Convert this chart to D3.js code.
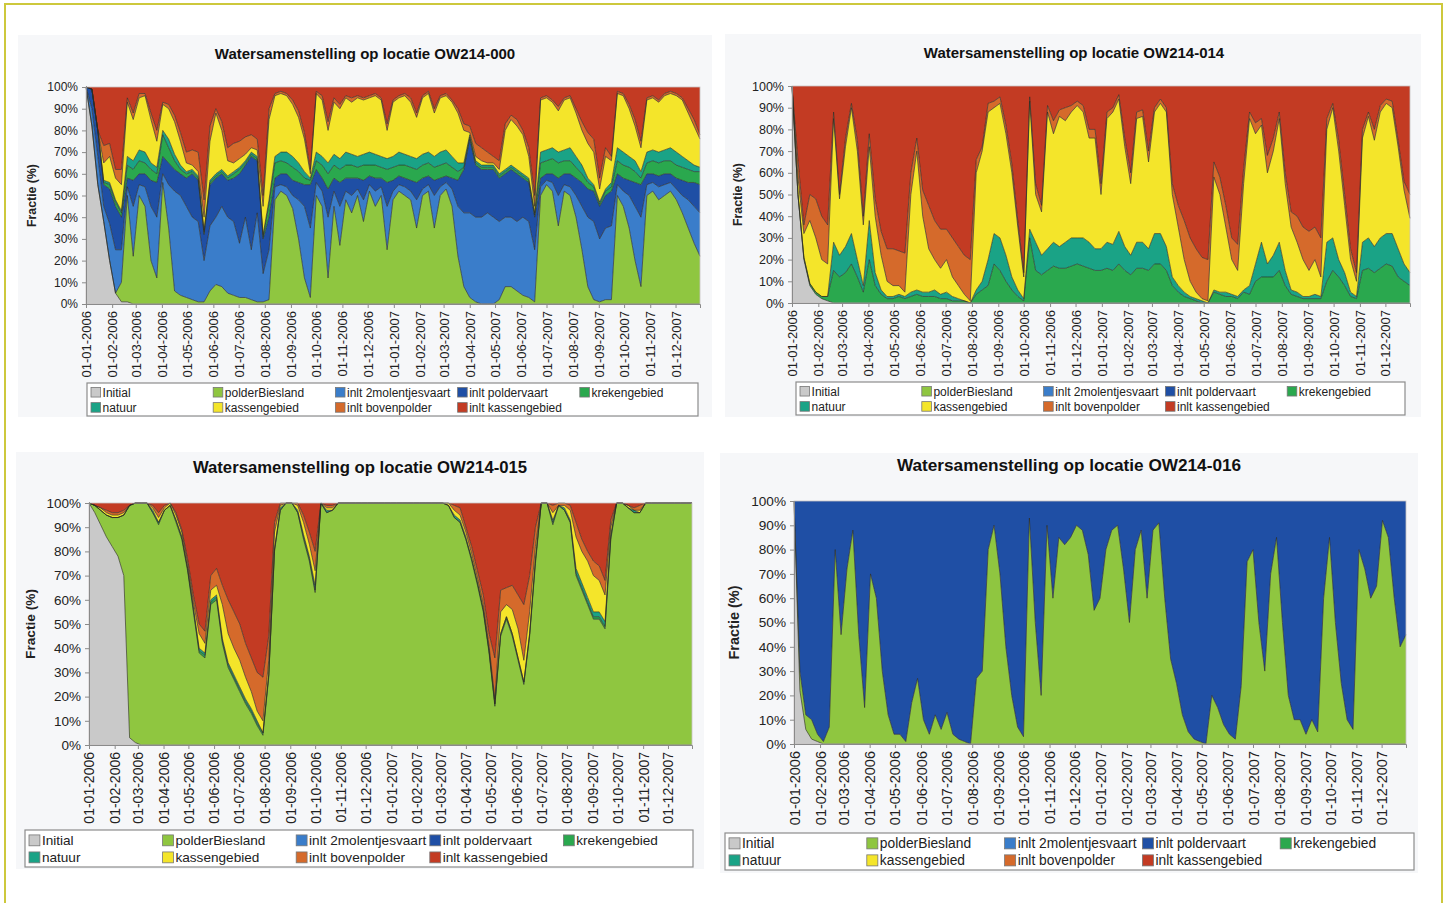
<!DOCTYPE html>
<html>
<head>
<meta charset="utf-8">
<script src="https://cdn.jsdelivr.net/npm/d3@7"></script>
<style>
  body { margin: 0; background: #ffffff; }
  svg { display: block; }
  text { font-family: Arial, "Liberation Sans", sans-serif; }
</style>
</head>
<body>
<svg id="chart" width="1446" height="903"></svg>
<script>
// Weekly water composition fractions (%) per source, 01-01-2006 .. 30-12-2007 (105 samples)
const seriesKeys = ["Initial", "polderBiesland", "inlt 2molentjesvaart", "inlt poldervaart",
  "krekengebied", "natuur", "kassengebied", "inlt bovenpolder", "inlt kassengebied"];
const seriesColors = ["#c9c9c9", "#8fc640", "#3a7dca", "#1f4fa5", "#2aa84e", "#1aa386", "#f4e52a", "#d56a2b", "#c33b23"];

// ---- OW214-000 ----
const ow000Initial = [
100,82,55,38,20,5,1,1,0,0,
0,0,0,0,0,0,0,0,0,0,
0,0,0,0,0,0,0,0,0,0,
0,0,0,0,0,0,0,0,0,0,
0,0,0,0,0,0,0,0,0,0,
0,0,0,0,0,0,0,0,0,0,
0,0,0,0,0,0,0,0,0,0,
0,0,0,0,0,0,0,0,0,0,
0,0,0,0,0,0,0,0,0,0,
0,0,0,0,0,0,0,0,0,0,
0,0,0,0,0];
const ow000PolderBiesland = [
0,0,0,0,0,0,9,49,22,50,
45,20,12,56,35,6,4,3,2,1,
1,6,9,8,5,4,3,3,2,1,
1,2,48,52,50,44,30,12,3,50,
45,12,45,27,48,42,50,38,52,45,
50,25,48,52,50,48,35,50,52,35,
50,53,45,22,8,3,1,0,0,0,
2,8,8,6,4,3,1,50,55,52,
36,52,50,40,25,8,2,1,2,2,
50,45,35,20,8,50,52,48,50,52,
48,42,35,28,22];
const ow000Molentjesvaart = [
0,8,13,7,17,20,15,4,23,5,
9,25,28,4,20,46,46,42,38,37,
19,30,31,37,35,34,25,37,23,41,
13,23,6,3,4,6,18,33,32,6,
7,28,7,18,4,8,3,10,3,7,
4,20,4,3,4,4,13,3,3,15,
4,3,8,23,34,39,39,40,42,40,
36,32,32,32,36,35,24,4,2,4,
14,3,4,10,20,32,36,29,33,34,
5,7,15,25,32,5,4,6,5,4,
5,8,13,17,20];
const ow000Poldervaart = [
0,9,12,10,16,20,15,4,12,5,
6,12,16,8,10,10,10,13,20,19,
12,19,18,15,17,20,32,24,43,24,
16,15,4,5,6,7,8,10,20,6,
6,13,6,11,6,8,5,9,4,6,
4,11,5,4,4,5,8,5,4,7,
4,3,5,12,20,34,24,22,20,22,
20,20,22,22,18,18,15,4,3,4,
8,5,6,8,11,13,14,15,15,16,
5,6,7,11,15,5,4,5,5,4,
5,7,8,11,13];
const ow000Krekengebied = [
0,0,0,1,2,2,2,6,5,6,
5,5,4,10,7,4,2,2,1,1,
1,1,1,1,1,2,2,1,1,1,
1,6,7,6,5,6,5,3,2,4,
6,7,6,6,6,6,5,7,5,6,
5,6,6,5,6,6,6,6,6,6,
6,6,5,4,1,1,1,1,1,1,
1,1,1,1,1,1,1,7,6,7,
7,6,6,5,4,3,2,1,2,2,
6,6,6,5,3,5,6,6,6,6,
6,6,6,5,6];
const ow000Natuur = [
0,0,0,1,1,1,1,4,4,5,
5,3,3,2,4,3,2,1,1,1,
1,1,1,1,1,1,1,1,1,1,
1,2,3,4,5,5,4,3,1,4,
4,5,5,5,6,5,5,5,6,5,
5,5,5,6,5,5,5,5,5,5,
6,6,5,4,2,1,1,1,1,1,
1,1,1,1,1,1,1,5,5,5,
5,5,6,5,4,2,1,1,1,2,
6,6,5,5,3,5,5,5,5,6,
6,5,4,3,2];
const ow000Kassengebied = [
0,0,0,8,12,10,12,25,19,24,
26,20,12,12,14,15,11,4,2,2,
6,18,28,18,7,4,4,3,2,3,
13,37,28,27,26,24,21,15,2,27,
26,15,24,23,25,24,27,25,25,27,
26,13,25,25,27,25,19,26,27,20,
25,25,25,23,15,1,2,2,1,1,
2,18,21,20,18,10,3,24,24,21,
19,23,23,20,16,16,15,6,15,10,
25,26,22,16,11,24,24,23,25,25,
26,26,22,18,13];
const ow000Bovenpolder = [
0,0,0,8,6,4,7,2,3,2,
1,3,5,1,2,3,4,5,7,9,
8,7,2,4,6,9,8,8,6,5,
5,5,1,1,1,2,3,3,2,1,
2,4,2,2,1,2,1,1,1,1,
1,3,1,1,1,2,2,1,1,2,
1,1,1,2,3,3,6,6,5,3,
4,3,2,3,2,4,5,1,1,1,
2,1,1,2,4,5,6,5,4,2,
1,1,2,3,3,1,1,1,1,1,
1,1,2,3,2];
const ow000InltKassengebied = [
0,1,20,27,26,38,38,5,12,3,
3,12,20,7,8,13,21,30,29,30,
52,18,10,16,28,26,25,23,22,24,
50,10,3,2,3,6,11,21,38,2,
4,16,5,8,4,5,4,5,4,3,
5,17,6,4,3,5,12,4,2,10,
4,3,6,10,17,18,26,28,30,32,
34,17,13,15,20,28,50,5,4,6,
9,5,4,10,16,21,24,42,28,32,
2,3,8,15,25,5,4,6,3,2,
3,5,10,15,22];

// ---- OW214-014 ----
const ow014Initial = [
100,50,20,8,4,2,1,0,0,0,
0,0,0,0,0,0,0,0,0,0,
0,0,0,0,0,0,0,0,0,0,
0,0,0,0,0,0,0,0,0,0,
0,0,0,0,0,0,0,0,0,0,
0,0,0,0,0,0,0,0,0,0,
0,0,0,0,0,0,0,0,0,0,
0,0,0,0,0,0,0,0,0,0,
0,0,0,0,0,0,0,0,0,0,
0,0,0,0,0,0,0,0,0,0,
0,0,0,0,0];
const ow014Krekengebied = [
0,0,1,1,1,1,2,15,12,14,
18,12,5,20,8,4,2,2,3,2,
3,4,3,3,3,2,2,1,1,1,
0,4,6,8,18,15,10,6,3,1,
30,15,13,15,17,16,16,17,18,17,
16,15,15,16,15,18,15,13,16,16,
15,18,18,15,8,5,3,2,1,0,
0,5,4,3,3,2,5,4,10,12,
12,12,15,8,4,3,2,2,2,2,
10,15,12,8,3,2,15,16,14,16,
18,17,12,10,8];
const ow014Natuur = [
0,0,0,0,0,0,0,13,10,12,
14,8,3,18,6,2,1,1,1,1,
2,2,2,2,3,2,3,2,1,0,
0,2,4,12,14,15,12,6,3,1,
4,13,9,10,11,10,12,13,12,13,
12,10,10,12,12,15,11,9,12,12,
10,14,14,11,4,3,2,1,1,1,
0,1,1,2,1,1,1,4,8,16,
6,10,13,7,2,2,1,1,2,1,
18,15,8,6,2,1,13,14,12,14,
14,15,13,8,6];
const ow014Kassengebied = [
0,8,11,29,25,17,15,57,26,46,
58,50,28,34,26,16,7,5,4,2,
45,64,35,20,14,12,15,9,6,3,
1,54,60,68,58,62,56,48,29,10,
59,22,20,63,50,60,56,58,61,58,
48,51,25,57,61,61,46,33,57,58,
40,56,60,62,38,27,15,7,3,1,
1,52,45,30,16,12,49,77,60,54,
42,48,57,40,29,23,17,12,16,9,
52,60,50,31,15,7,48,56,49,58,
60,58,47,34,25];
const ow014Bovenpolder = [
0,8,4,12,18,20,18,3,2,4,
2,5,4,6,8,11,15,17,16,18,
10,6,12,20,18,18,14,18,18,18,
19,6,2,4,3,3,4,4,3,2,
2,5,3,3,6,3,6,3,2,3,
4,4,5,3,2,2,4,5,3,3,
5,2,2,2,5,10,18,20,20,19,
19,7,8,10,10,12,7,3,5,3,
8,6,3,5,7,12,15,18,15,18,
5,2,5,5,5,4,4,2,5,3,
2,3,3,4,11];
const ow014InltKassengebied = [
0,34,64,50,52,60,64,12,50,24,
8,25,60,22,52,67,75,75,76,77,
40,24,48,55,62,66,66,70,74,78,
80,34,28,8,7,5,18,36,62,86,
5,45,55,9,16,11,10,9,7,9,
20,20,45,12,10,4,24,40,12,11,
30,10,6,10,45,55,62,70,75,79,
80,35,42,55,70,73,38,12,17,15,
32,24,12,40,58,60,65,67,65,70,
15,8,25,50,75,86,20,12,20,9,
6,7,25,44,50];

// ---- OW214-015 ----
const ow015Initial = [
100,96,91,86,82,78,70,3,1,0,
0,0,0,0,0,0,0,0,0,0,
0,0,0,0,0,0,0,0,0,0,
0,0,0,0,0,0,0,0,0,0,
0,0,0,0,0,0,0,0,0,0,
0,0,0,0,0,0,0,0,0,0,
0,0,0,0,0,0,0,0,0,0,
0,0,0,0,0,0,0,0,0,0,
0,0,0,0,0,0,0,0,0,0,
0,0,0,0,0,0,0,0,0,0,
0,0,0,0,0];
const ow015PolderBiesland = [
0,3,6,9,12,16,25,96,99,100,
100,96,91,97,99,92,85,72,55,38,
36,58,60,42,32,27,22,17,13,8,
4,28,80,97,100,100,96,85,76,63,
100,96,97,100,100,100,100,100,100,100,
100,100,100,100,100,100,100,100,100,100,
100,100,99,94,92,85,76,66,55,38,
16,45,52,45,35,25,45,75,100,100,
91,99,97,92,70,64,58,52,52,48,
85,100,100,98,96,96,100,100,100,100,
100,100,100,100,100];
const ow015Krekengebied = [
0,0,0,0,0,0,0,0,0,0,
0,0,1,0,0,1,1,1,1,1,
1,1,1,1,1,1,1,1,1,1,
1,1,1,0,0,0,0,1,1,1,
0,0,0,0,0,0,0,0,0,0,
0,0,0,0,0,0,0,0,0,0,
0,0,0,0,0,0,1,1,1,1,
1,1,1,1,1,1,1,1,0,0,
1,0,0,0,1,1,1,1,1,1,
1,0,0,0,0,0,0,0,0,0,
0,0,0,0,0];
const ow015Natuur = [
0,0,0,0,0,0,0,0,0,0,
0,1,0,0,0,0,0,0,1,1,
1,1,1,1,1,1,1,1,1,1,
0,0,0,1,0,0,1,1,1,2,
0,1,0,0,0,0,0,0,0,0,
0,0,0,0,0,0,0,0,0,0,
0,0,0,1,1,1,0,0,0,0,
0,0,0,0,0,0,0,1,0,0,
1,0,1,1,2,2,2,2,2,2,
1,0,0,0,1,0,0,0,0,0,
0,0,0,0,0];
const ow015Kassengebied = [
0,0,1,1,1,1,1,0,0,0,
0,1,2,1,1,2,2,2,2,6,
4,4,4,14,12,11,11,9,7,4,
5,6,7,1,0,0,2,5,5,6,
0,1,1,0,0,0,0,0,0,0,
0,0,0,0,0,0,0,0,0,0,
0,0,1,2,2,2,2,2,2,2,
2,9,5,10,12,9,9,5,0,0,
3,0,1,4,13,13,15,15,13,11,
3,0,0,1,0,1,0,0,0,0,
0,0,0,0,0];
const ow015Bovenpolder = [
0,0,0,1,1,1,1,0,0,0,
0,1,2,1,0,1,1,2,3,4,
5,6,7,8,14,15,15,14,14,16,
18,10,4,1,0,0,1,3,5,8,
0,1,1,0,0,0,0,0,0,0,
0,0,0,0,0,0,0,0,0,0,
0,0,0,2,3,2,3,3,4,5,
17,9,7,10,14,23,15,8,0,0,
3,1,1,2,6,5,4,6,6,6,
3,0,0,0,1,2,0,0,0,0,
0,0,0,0,0];
const ow015InltKassengebied = [
0,1,2,3,4,4,3,1,0,0,
0,1,4,1,0,4,11,23,38,50,
53,30,27,34,40,45,50,58,64,70,
72,55,8,0,0,0,0,5,12,20,
0,1,1,0,0,0,0,0,0,0,
0,0,0,0,0,0,0,0,0,0,
0,0,0,1,2,10,18,28,38,54,
64,36,35,34,38,42,30,10,0,0,
1,0,0,1,8,15,20,24,26,32,
7,0,0,1,2,1,0,0,0,0,
0,0,0,0,0];

// ---- OW214-016 ----
const ow016Initial = [
100,22,6,2,1,0,0,0,0,0,
0,0,0,0,0,0,0,0,0,0,
0,0,0,0,0,0,0,0,0,0,
0,0,0,0,0,0,0,0,0,0,
0,0,0,0,0,0,0,0,0,0,
0,0,0,0,0,0,0,0,0,0,
0,0,0,0,0,0,0,0,0,0,
0,0,0,0,0,0,0,0,0,0,
0,0,0,0,0,0,0,0,0,0,
0,0,0,0,0,0,0,0,0,0,
0,0,0,0,0];
const ow016PolderBiesland = [
0,8,6,8,3,1,7,80,45,72,
88,45,15,70,60,30,12,4,4,1,
17,27,10,4,12,6,13,4,2,1,
0,27,30,80,90,70,40,20,7,3,
93,50,20,90,60,85,82,85,90,88,
78,55,60,80,88,90,72,50,80,88,
60,88,91,60,35,25,12,5,2,1,
0,20,15,8,4,2,24,75,80,50,
30,70,85,50,20,10,10,4,10,5,
60,85,50,25,10,6,80,72,60,65,
92,85,60,40,45];
const ow016Poldervaart = [
0,70,88,90,96,99,93,20,55,28,
12,55,85,30,40,70,88,96,96,99,
83,73,90,96,88,94,87,96,98,99,
100,73,70,20,10,30,60,80,93,97,
7,50,80,10,40,15,18,15,10,12,
22,45,40,20,12,10,28,50,20,12,
40,12,9,40,65,75,88,95,98,99,
100,80,85,92,96,98,76,25,20,50,
70,30,15,50,80,90,90,96,90,95,
40,15,50,75,90,94,20,28,40,35,
8,15,40,60,55];

// Sample dates: one per week from the start of 2006
const startDate = new Date(2006, 0, 1);
const sampleDates = d3.range(ow000Initial.length).map(i => d3.timeDay.offset(startDate, 7 * i));
const monthTicks = d3.timeMonth.range(startDate, new Date(2007, 11, 2));

// Layout of the four charts
const panels = [
  { title: "Watersamenstelling op locatie OW214-000",
    series: { "Initial": ow000Initial, "polderBiesland": ow000PolderBiesland, "inlt 2molentjesvaart": ow000Molentjesvaart,
      "inlt poldervaart": ow000Poldervaart, "krekengebied": ow000Krekengebied, "natuur": ow000Natuur,
      "kassengebied": ow000Kassengebied, "inlt bovenpolder": ow000Bovenpolder, "inlt kassengebied": ow000InltKassengebied },
    bg: [18, 35, 694, 382], plot: [86, 87, 700, 304], titleX: 365, titleY: 59, titleFs: 15,
    tickFs: 12, xTickFs: 13, yTitleX: 32, yTitleFs: 12.3, legend: [87, 383, 611, 33], legFs: 12 },
  { title: "Watersamenstelling op locatie OW214-014",
    series: { "Initial": ow014Initial, "krekengebied": ow014Krekengebied, "natuur": ow014Natuur,
      "kassengebied": ow014Kassengebied, "inlt bovenpolder": ow014Bovenpolder, "inlt kassengebied": ow014InltKassengebied },
    bg: [725, 34, 696, 383], plot: [792, 86, 1410, 303], titleX: 1074, titleY: 58, titleFs: 15,
    tickFs: 12.5, xTickFs: 13, yTitleX: 738, yTitleFs: 12.3, legend: [796, 382, 609, 33], legFs: 12 },
  { title: "Watersamenstelling op locatie OW214-015",
    series: { "Initial": ow015Initial, "polderBiesland": ow015PolderBiesland, "krekengebied": ow015Krekengebied,
      "natuur": ow015Natuur, "kassengebied": ow015Kassengebied, "inlt bovenpolder": ow015Bovenpolder,
      "inlt kassengebied": ow015InltKassengebied },
    bg: [16, 452, 688, 417], plot: [89, 503, 692, 745], titleX: 360, titleY: 473, titleFs: 16.7,
    tickFs: 13.5, xTickFs: 14, yTitleX: 30, yTitleFs: 13.7, legend: [25, 830, 668, 37], legFs: 13.6 },
  { title: "Watersamenstelling op locatie OW214-016",
    series: { "Initial": ow016Initial, "polderBiesland": ow016PolderBiesland, "inlt poldervaart": ow016Poldervaart },
    bg: [720, 453, 698, 420], plot: [794, 501, 1406, 744], titleX: 1069, titleY: 471, titleFs: 17.2,
    tickFs: 13.6, xTickFs: 14.5, yTitleX: 734, yTitleFs: 14.5, legend: [725, 833, 689, 37], legFs: 13.8 }
];

const svg = d3.select("#chart");

// Outer frame of the figure
svg.append("rect").attr("x", 5).attr("y", 4).attr("width", 1437).attr("height", 910)
  .attr("fill", "none").attr("stroke", "#cdc83c").attr("stroke-width", 2);

function drawPanel(cfg) {
  const g = svg.append("g");
  const [px0, py0, px1, py1] = cfg.plot;

  g.append("rect").attr("x", cfg.bg[0]).attr("y", cfg.bg[1]).attr("width", cfg.bg[2]).attr("height", cfg.bg[3])
    .attr("fill", "#f6f7f9");

  const x = d3.scaleTime().domain(d3.extent(sampleDates)).range([px0, px1]);
  const y = d3.scaleLinear().domain([0, 1]).range([py1, py0]);

  const rows = sampleDates.map((date, i) => {
    const row = { date };
    seriesKeys.forEach(k => { row[k] = cfg.series[k] ? cfg.series[k][i] : 0; });
    return row;
  });
  const layers = d3.stack().keys(seriesKeys).offset(d3.stackOffsetExpand)(rows);

  const area = d3.area().x(d => x(d.data.date)).y0(d => y(d[0])).y1(d => y(d[1]));
  const edge = d3.line().x(d => x(d.data.date)).y(d => y(d[1]));

  g.append("g").selectAll("path").data(layers).join("path")
    .attr("d", area).attr("fill", (d, i) => seriesColors[i]);

  // dark outline along the top of each layer below the uppermost one
  const present = seriesKeys.filter(k => cfg.series[k]);
  const topKey = present[present.length - 1];
  g.append("g").selectAll("path")
    .data(layers.filter(l => cfg.series[l.key] && l.key !== topKey))
    .join("path")
    .attr("d", edge).attr("fill", "none").attr("stroke", "#2b2b22").attr("stroke-width", 0.8)
    .attr("stroke-opacity", 0.8).attr("stroke-linejoin", "round");

  // plot frame
  g.append("rect").attr("x", px0).attr("y", py0).attr("width", px1 - px0).attr("height", py1 - py0)
    .attr("fill", "none").attr("stroke", "#c9c4c4").attr("stroke-width", 0.8);

  // y axis
  const yAxis = g.append("g").attr("transform", `translate(${px0},0)`)
    .call(d3.axisLeft(y).tickValues(d3.range(0, 11).map(v => v / 10)).tickFormat(d3.format(".0%")).tickSize(4).tickPadding(4));
  yAxis.select(".domain").attr("stroke", "#8a8a8a");
  yAxis.selectAll(".tick line").attr("stroke", "#8a8a8a");
  yAxis.selectAll("text").attr("fill", "#222").style("font-size", cfg.tickFs + "px");

  // x axis with rotated date labels
  const xAxis = g.append("g").attr("transform", `translate(0,${py1})`)
    .call(d3.axisBottom(x).tickValues(monthTicks).tickFormat(d3.timeFormat("%d-%m-%Y")).tickSize(4));
  xAxis.select(".domain").attr("stroke", "#8a8a8a");
  xAxis.selectAll(".tick line").attr("stroke", "#8a8a8a");
  xAxis.selectAll("text")
    .attr("transform", "rotate(-90)")
    .attr("x", -7).attr("y", 0).attr("dy", "0.35em")
    .style("text-anchor", "end").style("font-size", cfg.xTickFs + "px").attr("fill", "#222");

  // titles
  g.append("text").attr("x", cfg.titleX).attr("y", cfg.titleY).attr("text-anchor", "middle")
    .style("font-size", cfg.titleFs + "px").style("font-weight", "bold").attr("fill", "#111").text(cfg.title);
  g.append("text").attr("transform", `translate(${cfg.yTitleX},${(py0 + py1) / 2}) rotate(-90)`)
    .attr("text-anchor", "middle").attr("dy", "0.35em")
    .style("font-size", cfg.yTitleFs + "px").style("font-weight", "bold").attr("fill", "#222").text("Fractie (%)");

  // legend
  const [lx, ly, lw, lh] = cfg.legend;
  const leg = g.append("g");
  leg.append("rect").attr("x", lx).attr("y", ly).attr("width", lw).attr("height", lh)
    .attr("fill", "#ffffff").attr("stroke", "#8c8c8c").attr("stroke-width", 1.2);
  const colW = lw * 0.2;
  const sw = cfg.legFs * 0.8;
  seriesKeys.forEach((k, i) => {
    const col = i < 5 ? i : i - 5;
    const row = i < 5 ? 0 : 1;
    const ix = lx + 4 + col * colW;
    const iy = ly + lh * (row === 0 ? 0.28 : 0.74);
    leg.append("rect").attr("x", ix).attr("y", iy - sw / 2).attr("width", sw).attr("height", sw)
      .attr("fill", seriesColors[i]).attr("stroke", "#777").attr("stroke-width", 0.8);
    leg.append("text").attr("x", ix + sw + 2).attr("y", iy).attr("dy", "0.36em")
      .style("font-size", cfg.legFs + "px").attr("fill", "#222").text(k);
  });
}

panels.forEach(drawPanel);
</script>
</body>
</html>
